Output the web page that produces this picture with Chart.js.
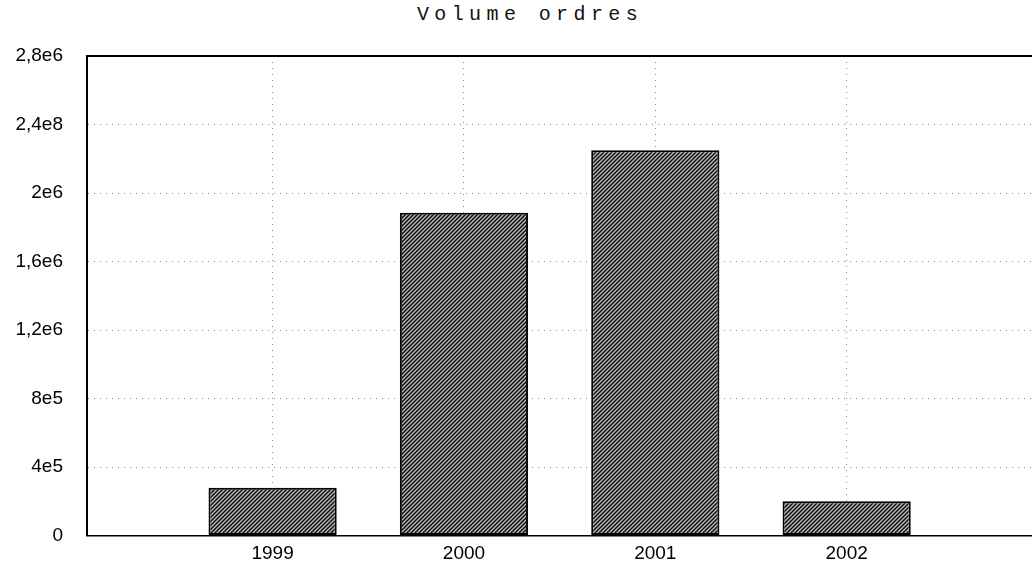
<!DOCTYPE html>
<html>
<head>
<meta charset="utf-8">
<script src="https://cdn.jsdelivr.net/npm/chart.js@4"></script>
<style>
  html, body { margin: 0; padding: 0; background: #fff; overflow: hidden; }
  #wrap { position: relative; width: 1040px; height: 571px; }
  #title {
    position: absolute; left: 380px; top: 3px; width: 300px; text-align: center;
    font-family: "Liberation Mono", monospace; font-size: 20px; letter-spacing: 5.4px;
    color: #111;
  }
  canvas { position: absolute; left: 0; top: 0; }
</style>
</head>
<body>
<div id="wrap">
  <div id="title">Volume ordres</div>
  <canvas id="chartVolume" width="1040" height="571"></canvas>
</div>
<script>
// chart data
var years = [1999, 2000, 2001, 2002];
var volumes = [280000, 1885000, 2250000, 200000];
var yTickLabels = ['0', '4e5', '8e5', '1,2e6', '1,6e6', '2e6', '2,4e8', '2,8e6'];
var xMin = 1998.03;
var xMax = 2003;
var yMax = 2800000;
var yStep = 400000;

function makeHatch() {
    var c = document.createElement('canvas');
    c.width = 4;
    c.height = 4;
    var ctx = c.getContext('2d');
    ctx.fillStyle = '#bdbdbd';
    ctx.fillRect(0, 0, 4, 4);
    ctx.strokeStyle = '#0d0d0d';
    ctx.lineWidth = 1.5;
    ctx.beginPath();
    ctx.moveTo(0, 4); ctx.lineTo(4, 0);
    ctx.moveTo(-1, 1); ctx.lineTo(1, -1);
    ctx.moveTo(3, 5); ctx.lineTo(5, 3);
    ctx.stroke();
    return ctx.createPattern(c, 'repeat');
}

function yearTicks(scale) {
    scale.ticks = years.map(function (y) { return { value: y }; });
}

var TICK_FONT = { family: '"Liberation Sans", Arial, sans-serif', size: 19 };
var GRID = '#8a8a8a';

new Chart(document.getElementById('chartVolume'), {
    type: 'bar',
    data: {
        datasets: [{
            label: 'Volume ordres',
            data: years.map(function (y, i) { return { x: y, y: volumes[i] }; }),
            backgroundColor: makeHatch(),
            borderColor: '#000',
            borderWidth: 2,
            borderSkipped: false,
            barPercentage: 0.67,
            categoryPercentage: 1
        }]
    },
    options: {
        responsive: false,
        animation: false,
        devicePixelRatio: 1,
        layout: { padding: { top: 56, left: 0, right: 2, bottom: 0 } },
        plugins: {
            legend: { display: false },
            title: { display: false },
            tooltip: { enabled: false }
        },
        scales: {
            x: {
                type: 'linear',
                min: xMin,
                max: xMax,
                offset: false,
                afterBuildTicks: yearTicks,
                afterFit: function (scale) { scale.height = 34; },
                grid: { offset: false, drawTicks: false, color: GRID, lineWidth: 1 },
                border: { display: true, color: '#000', width: 1.5, dash: [1, 5] },
                ticks: {
                    color: '#000',
                    font: TICK_FONT,
                    padding: 7,
                    maxRotation: 0,
                    autoSkip: false,
                    callback: function (value) { return String(value); }
                }
            },
            x2: {
                type: 'linear',
                position: 'top',
                min: xMin,
                max: xMax,
                offset: false,
                afterFit: function (scale) { scale.height = 0; },
                grid: { display: false, drawTicks: false },
                border: { display: true, color: '#000', width: 2 },
                ticks: { display: false }
            },
            y: {
                min: 0,
                max: yMax,
                afterFit: function (scale) { scale.width = 87; },
                grid: {
                    drawTicks: false,
                    color: function (ctx) {
                        var i = ctx.index;
                        return (i === 0 || i === yTickLabels.length - 1) ? 'rgba(0,0,0,0)' : GRID;
                    },
                    lineWidth: 1
                },
                border: { display: true, color: '#000', width: 2, dash: [1, 5] },
                ticks: {
                    stepSize: yStep,
                    color: '#000',
                    font: TICK_FONT,
                    padding: 24,
                    callback: function (value, index) { return yTickLabels[index]; }
                }
            }
        }
    }
});
</script>
</body>
</html>
